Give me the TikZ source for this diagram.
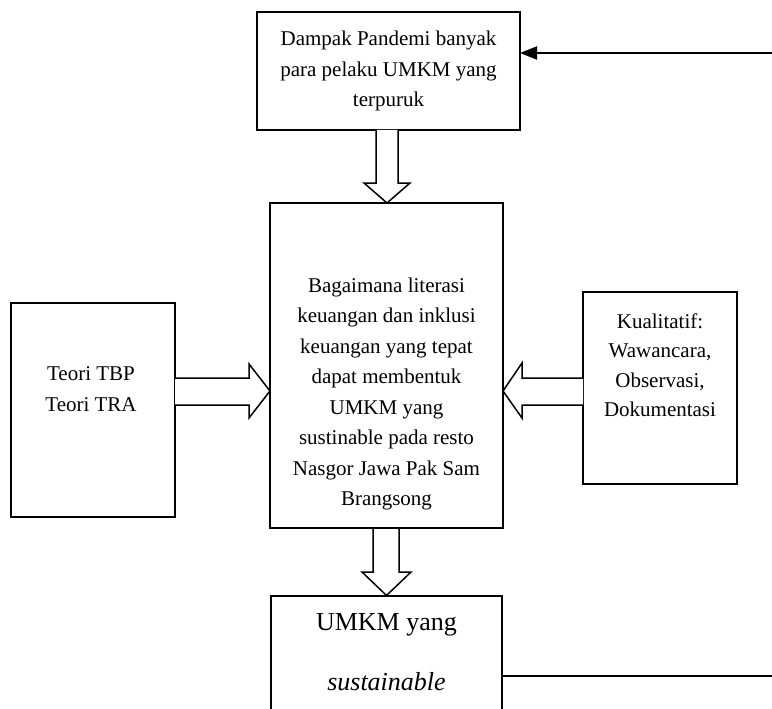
\documentclass[tikz,border=0pt]{standalone}
\usepackage{fontspec}
\setmainfont{Liberation Serif}
\usetikzlibrary{arrows.meta,calc}
\begin{document}
\begin{tikzpicture}[x=1pt,y=-1pt,line width=1.5pt,
  box/.style={draw,line width=1.5pt,inner sep=0pt,outer sep=0pt},
  txt/.style={align=center,font=\fontsize{21}{30.5}\selectfont,inner sep=0pt},
  bigtxt/.style={align=center,font=\fontsize{26}{60}\selectfont,inner sep=0pt},
  barrow/.style={draw,line width=1.5pt,fill=white,line join=miter}]
\clip (0,0) rectangle (772,709);
% boxes
\node[box,minimum width=263pt,minimum height=118pt] (top) at (388.5,71) {};
\node[box,minimum width=233pt,minimum height=325pt] (mid) at (386.5,365.5) {};
\node[box,minimum width=164pt,minimum height=214pt] (left) at (93,410) {};
\node[box,minimum width=154pt,minimum height=192pt] (right) at (660,388) {};
\node[box,minimum width=231pt,minimum height=134pt] (bot) at (386.5,663) {};
% texts
\node[txt] (toptxt) at (388.5,71) {Dampak Pandemi banyak\\para pelaku UMKM yang\\terpuruk};
\node[txt] (midtxt) at (386.5,394) {Bagaimana literasi\\keuangan dan inklusi\\keuangan yang tepat\\dapat membentuk\\UMKM yang\\sustinable pada resto\\Nasgor Jawa Pak Sam\\Brangsong};
\node[txt] (lefttxt) at (91,389) {Teori TBP\\Teori TRA};
\node[txt,font=\fontsize{21}{29.5}\selectfont] (righttxt) at (660,365) {Kualitatif:\\Wawancara,\\Observasi,\\Dokumentasi};
\node[bigtxt] (bottxt) at (386.5,652) {UMKM yang\\\textit{sustainable}};
% block arrows
\draw[barrow] (376,130) -- (376,183) -- (364,183) -- (387,203) -- (410,183) -- (398,183) -- (398,130);
\draw[barrow] (373,528) -- (373,572) -- (362,572) -- (386.5,595.5) -- (411,572) -- (399,572) -- (399,528) -- cycle;
\draw[barrow] (175,378) -- (249,378) -- (249,364) -- (270,391) -- (249,418) -- (249,405) -- (175,405);
\draw[barrow] (583,378) -- (522,378) -- (522,363) -- (503,391) -- (522,418) -- (522,405) -- (583,405);
% feedback line
\coordinate (fb) at (772,53);
\coordinate (fe) at (772,676);
\draw[line width=2pt,-{Triangle[length=17pt,width=13pt]}] (fb) -- (fb -| top.east);
\draw[line width=1.5pt] (bot.east |- fe) -- (fe);
\end{tikzpicture}
\end{document}
